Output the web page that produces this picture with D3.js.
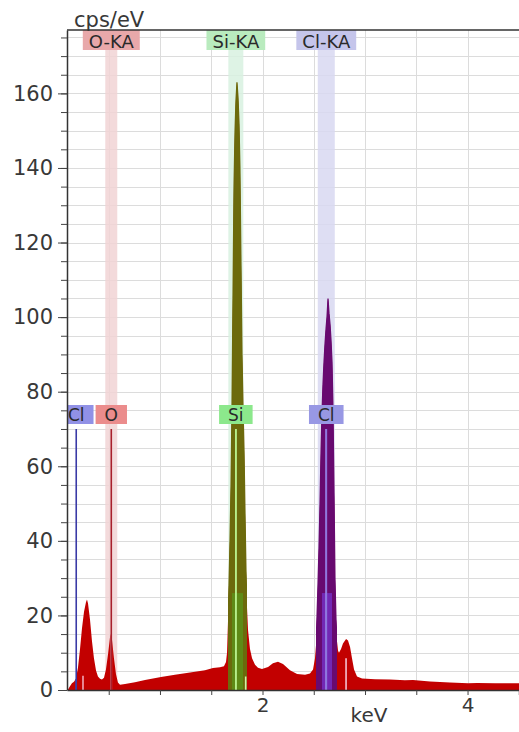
<!DOCTYPE html>
<html>
<head>
<meta charset="utf-8">
<script src="https://cdnjs.cloudflare.com/ajax/libs/d3/7.8.5/d3.min.js"></script>
<style>
  body { margin: 0; background: #fff; }
  svg { display: block; font-family: "DejaVu Sans", Verdana, sans-serif; }
</style>
</head>
<body>
<div id="container"></div>
<script>
// spectrum: energy (keV) and intensity (cps/eV)
const energy = [0.100, 0.122, 0.141, 0.161, 0.180, 0.200, 0.220, 0.239, 0.259, 0.278, 0.288, 0.298,
  0.317, 0.337, 0.356, 0.376, 0.395, 0.415, 0.434, 0.454, 0.473, 0.493, 0.512, 0.522, 0.532,
  0.551, 0.571, 0.590, 0.610, 0.659, 0.756, 0.854, 1.010, 1.146, 1.293, 1.439, 1.517, 1.585,
  1.624, 1.644, 1.654, 1.663, 1.673, 1.683, 1.693, 1.702, 1.712, 1.722, 1.732, 1.741, 1.751,
  1.761, 1.771, 1.780, 1.790, 1.800, 1.810, 1.820, 1.829, 1.839, 1.849, 1.859, 1.878, 1.898,
  1.927, 1.956, 1.995, 2.054, 2.102, 2.151, 2.200, 2.268, 2.337, 2.415, 2.463, 2.493, 2.512,
  2.522, 2.532, 2.541, 2.551, 2.561, 2.571, 2.580, 2.590, 2.600, 2.610, 2.620, 2.629, 2.639,
  2.649, 2.659, 2.668, 2.678, 2.688, 2.698, 2.707, 2.717, 2.727, 2.737, 2.746, 2.766, 2.785,
  2.815, 2.834, 2.854, 2.873, 2.893, 2.922, 2.971, 3.098, 3.244, 3.390, 3.468, 3.634, 3.829,
  4.005, 4.093, 4.268, 4.502];
const counts = [0.0, 1.0, 1.8, 2.2, 3.0, 6.0, 11, 16.5, 21, 23.5, 24.3, 23.2,
  19, 13, 8.5, 5.2, 3.6, 3.0, 2.8, 3.3, 5.5, 9.5, 14, 15, 13.5,
  8.5, 4.2, 2.0, 1.4, 1.6, 2.1, 2.7, 3.5, 4.1, 4.7, 5.3, 5.9, 6.1,
  6.4, 7.5, 10, 18, 28, 40, 55, 75, 105, 135, 150, 158, 163,
  159, 152, 140, 115, 90, 76, 64, 48, 32, 22, 16, 11, 8.5,
  6.8, 6.0, 5.6, 6.2, 7.2, 7.6, 7.0, 5.3, 4.3, 4.1, 4.4, 5.5, 8.5,
  12, 20, 28, 38, 50, 64, 74, 82, 88, 93, 97, 100, 105,
  101, 98, 94, 88, 75, 52, 30, 19, 13, 10.5, 10, 11, 12.5,
  13.7, 13.3, 11.5, 8.5, 5.5, 3.6, 3.1, 2.9, 2.8, 2.6, 2.7, 2.3, 2.0,
  1.8, 1.9, 1.8, 1.8];

// K-alpha windows at the top
const kaLabels = ["O-KA", "Si-KA", "Cl-KA"];
const kaEnergy = [0.525, 1.740, 2.622];
const kaWidth = [0.117, 0.146, 0.166];

// element lines with their labels
const lineLabels = ["Cl", "O", "Si", "Cl"];
const lineEnergy = [0.183, 0.525, 1.740, 2.622];
const lineTop = 70;

// small secondary lines
const minorEnergy = [0.249, 1.836, 2.815];
const minorTop = [3.8, 3.6, 8.5];

// coloured peak regions
const roiFrom = [1.663, 2.522];
const roiTo = [1.850, 2.727];
const coreFrom = [1.702, 2.580];
const coreTo = [1.810, 2.678];
const coreTop = 26;

const yTicks = [0, 20, 40, 60, 80, 100, 120, 140, 160];
const xTickLabels = [2, 4];

const width = 519;
const height = 732;
const padding = {top: 30, bot: 42, left: 67, right: 0};

const kaBox = ["#e8a8aa", "#b9ebbe", "#c5c5eb"];
const kaBand = ["#f1d3d5", "#d8f1e1", "#d8d8f1"];
const lineBox = ["#9191e6", "#eb8c8c", "#8ce88c", "#9898e4"];
const lineDark = ["#3a3aa6", "#a8202c", "#b6ef8a", "#8c78e0"];
const lineLight = ["#4a4ab0", "#f4b8c0", "#c4f596", "#c0a8ff"];
const minorColor = ["#f0a8b8", "#d8f0a8", "#f4c0d0"];
const roiColor = ["#6c6a0c", "#680a70"];
const coreColor = ["#5e8a16", "#7228b4"];

const svg = d3.select("#container")
              .append("svg")
              .attr("width", width)
              .attr("height", height);

const x = d3.scaleLinear()
            .domain([0.093, 4.502])
            .range([padding.left, width - padding.right]);
const y = d3.scaleLinear()
            .domain([0, 177])
            .range([height - padding.bot, padding.top]);

const area = d3.area()
               .x((d, i) => x(energy[i]))
               .y0(y(0))
               .y1((d) => y(d));

const defs = svg.append("defs");
defs.append("clipPath").attr("id", "plotClip")
    .append("rect")
    .attr("x", padding.left).attr("y", padding.top)
    .attr("width", width - padding.left - padding.right)
    .attr("height", height - padding.top - padding.bot);
defs.append("clipPath").attr("id", "specClip")
    .append("path").attr("d", area(counts));
roiFrom.forEach((d, i) => {
  defs.append("clipPath").attr("id", "roi" + i)
      .append("rect")
      .attr("x", x(d)).attr("y", padding.top)
      .attr("width", x(roiTo[i]) - x(d))
      .attr("height", height - padding.top - padding.bot);
});

const plot = svg.append("g").attr("clip-path", "url(#plotClip)");

// grid
plot.selectAll(".hgrid")
    .data(d3.range(5, 177, 5))
    .enter()
    .append("line")
    .attr("x1", padding.left).attr("x2", width)
    .attr("y1", (d) => Math.round(y(d)) + 0.5)
    .attr("y2", (d) => Math.round(y(d)) + 0.5)
    .attr("stroke", "#dcdcdc");
plot.selectAll(".vgrid")
    .data(d3.range(0.5, 4.6, 0.5))
    .enter()
    .append("line")
    .attr("x1", (d) => Math.round(x(d)) + 0.5)
    .attr("x2", (d) => Math.round(x(d)) + 0.5)
    .attr("y1", padding.top).attr("y2", y(0))
    .attr("stroke", "#dcdcdc");

// K-alpha bands
plot.selectAll(".band")
    .data(kaEnergy)
    .enter()
    .append("rect")
    .attr("x", (d, i) => x(d - kaWidth[i] / 2))
    .attr("width", (d, i) => x(kaWidth[i]) - x(0))
    .attr("y", 50)
    .attr("height", y(0) - 50)
    .attr("fill", (d, i) => kaBand[i])
    .attr("opacity", 0.85);

// spectrum
plot.append("path")
    .attr("d", area(counts))
    .attr("fill", "#c20000");
roiFrom.forEach((d, i) => {
  plot.append("path")
      .attr("d", area(counts))
      .attr("clip-path", "url(#roi" + i + ")")
      .attr("fill", roiColor[i])
      .attr("stroke", roiColor[i])
      .attr("stroke-width", 1.2);
});

const inside = plot.append("g").attr("clip-path", "url(#specClip)");
inside.selectAll(".core")
      .data(coreFrom)
      .enter()
      .append("rect")
      .attr("x", (d) => x(d))
      .attr("width", (d, i) => x(coreTo[i]) - x(d))
      .attr("y", y(coreTop))
      .attr("height", y(0) - y(coreTop))
      .attr("fill", (d, i) => coreColor[i]);

// element lines
plot.selectAll(".elLine")
    .data(lineEnergy)
    .enter()
    .append("line")
    .attr("x1", (d) => x(d)).attr("x2", (d) => x(d))
    .attr("y1", y(lineTop)).attr("y2", y(0))
    .attr("stroke", (d, i) => lineDark[i])
    .attr("stroke-width", 1.6);
inside.selectAll(".elLineIn")
      .data(lineEnergy)
      .enter()
      .append("line")
      .attr("x1", (d) => x(d)).attr("x2", (d) => x(d))
      .attr("y1", y(lineTop)).attr("y2", y(0))
      .attr("stroke", (d, i) => lineLight[i])
      .attr("stroke-width", 1.6);
inside.selectAll(".minor")
      .data(minorEnergy)
      .enter()
      .append("line")
      .attr("x1", (d) => x(d)).attr("x2", (d) => x(d))
      .attr("y1", (d, i) => y(minorTop[i])).attr("y2", y(0))
      .attr("stroke", (d, i) => minorColor[i])
      .attr("stroke-width", 1.6);

// labels with boxes
function labelBox(parent, label, cx, top, h, size, pad, fill, baseline) {
  const g = parent.append("g");
  const rect = g.append("rect");
  const t = g.append("text")
             .text(label)
             .attr("x", cx)
             .attr("y", top + baseline)
             .attr("text-anchor", "middle")
             .attr("font-size", size)
             .attr("fill", "#2a2a2a");
  const w = t.node().getComputedTextLength() + 2 * pad;
  rect.attr("x", cx - w / 2).attr("y", top)
      .attr("width", w).attr("height", h)
      .attr("fill", fill);
}
kaLabels.forEach((d, i) => labelBox(plot, d, x(kaEnergy[i]), 30, 20, 18, 6, kaBox[i], 17.5));
lineLabels.forEach((d, i) => labelBox(plot, d, x(lineEnergy[i]), 405, 19, 17, 9, lineBox[i], 16));

// axes
const yAxis = svg.append("g")
                 .attr("transform", "translate(" + padding.left + ",0)")
                 .call(d3.axisLeft(y).tickValues(yTicks).tickSize(9).tickSizeOuter(0).tickPadding(5));
yAxis.attr("font-size", 21).attr("font-family", null);
yAxis.selectAll("text").attr("fill", "#383838");
yAxis.selectAll("line").attr("stroke", "#444");
yAxis.select(".domain").attr("stroke", "#333").attr("stroke-width", 1.5);

const yMinor = svg.append("g")
                  .attr("transform", "translate(" + padding.left + ",0)")
                  .call(d3.axisLeft(y).tickValues(d3.range(0, 177, 5)).tickSize(6).tickFormat(""));
yMinor.select(".domain").remove();
yMinor.selectAll("line").attr("stroke", "#444");

const xAxis = svg.append("g")
                 .attr("transform", "translate(0," + y(0) + ")")
                 .call(d3.axisBottom(x)
                         .tickValues(d3.range(0.5, 4.6, 0.5))
                         .tickSize(5).tickSizeOuter(0).tickPadding(3)
                         .tickFormat((d) => xTickLabels.includes(d) ? d : ""));
xAxis.attr("font-size", 20).attr("font-family", null);
xAxis.selectAll("text").attr("fill", "#383838");
xAxis.selectAll("line").attr("stroke", "#444");
xAxis.select(".domain").attr("stroke", "#333").attr("stroke-width", 1.5);

svg.append("line")
   .attr("x1", padding.left).attr("x2", width)
   .attr("y1", padding.top).attr("y2", padding.top)
   .attr("stroke", "#333").attr("stroke-width", 1.5);

svg.append("text")
   .text("cps/eV")
   .attr("x", 74).attr("y", 27)
   .attr("font-size", 21)
   .attr("fill", "#383838");
svg.append("text")
   .text("keV")
   .attr("x", 369).attr("y", 722)
   .attr("text-anchor", "middle")
   .attr("font-size", 20)
   .attr("fill", "#383838");
</script>
</body>
</html>
